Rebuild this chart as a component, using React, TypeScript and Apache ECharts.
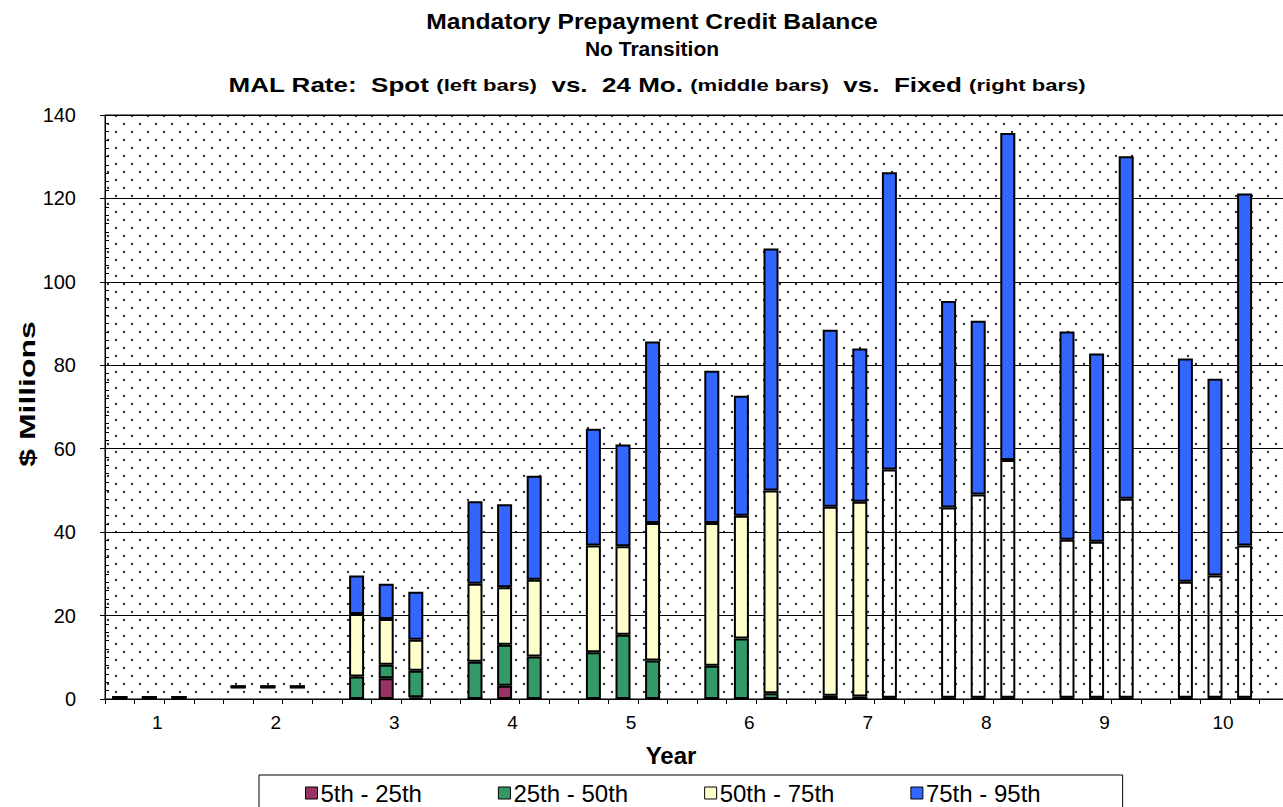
import React, { useEffect, useRef } from "react";
import * as echarts from "echarts";

// ---------- data ----------
const years = ["1", "2", "3", "4", "5", "6", "7", "8", "9", "10"];
const rates = ["Spot", "24 Mo.", "Fixed"]; // left, middle, right bar of each year

// values ($ millions), order: year1 spot, year1 24mo, year1 fixed, year2 spot, ...
const baseGap = [0, 0, 0, 2.5, 2.5, 2.5, 0, 0, 0, 0, 0, 0, 0, 0, 0, 0, 0, 0, 0, 0, 0, 0, 0, 0, 0, 0, 0, 0, 0, 0];
const p05to25 = [0.5, 0.5, 0.5, 0.5, 0.5, 0.5, 0, 5.0, 0.4, 0, 3.2, 0, 0, 0, 0, 0, 0, 0, 0, 0, 0, 0, 0, 0, 0, 0, 0, 0, 0, 0];
const p25to50 = [0, 0, 0, 0, 0, 0, 5.4, 3.2, 6.4, 8.9, 9.8, 10.2, 11.2, 15.4, 9.2, 8.0, 14.5, 1.4, 0.8, 0.6, 0.3, 0.3, 0.3, 0.3, 0.3, 0.3, 0.3, 0.3, 0.3, 0.3];
const p50to75 = [0, 0, 0, 0, 0, 0, 15.0, 11.0, 7.4, 18.7, 13.8, 18.4, 25.6, 21.2, 33.0, 34.2, 29.4, 48.6, 45.3, 46.7, 54.7, 45.6, 48.7, 57.0, 37.9, 37.4, 47.7, 27.8, 29.3, 36.5];
const p75to95 = [0, 0, 0, 0, 0, 0, 9.2, 8.4, 11.5, 19.8, 19.9, 24.9, 28.0, 24.4, 43.5, 36.5, 28.8, 58.0, 42.4, 36.7, 71.3, 49.5, 41.7, 78.4, 49.9, 45.1, 82.1, 53.5, 47.2, 84.4];
// bars whose 50th-75th segment is drawn unfilled in the original
const unfilledMid = [20, 21, 22, 23, 24, 25, 26, 27, 28, 29];

const seriesNames = ["5th - 25th", "25th - 50th", "50th - 75th", "75th - 95th"];
const seriesColors = ["#993366", "#339966", "#FFFFCC", "#3366FF"];

const yMin = 0;
const yMax = 140;
const yStep = 20;
const yMinorStep = 2;

const titleLine1 = "Mandatory Prepayment Credit Balance";
const titleLine2 = "No Transition";
const titleLine3 = [
  ["b", "MAL Rate:  Spot "],
  ["s", "(left bars)"],
  ["b", "  vs.  24 Mo. "],
  ["s", "(middle bars)"],
  ["b", "  vs.  Fixed "],
  ["s", "(right bars)"],
];
const xName = "Year";
const yName = "$ Millions";

const FONT = 'Arial, "Liberation Sans", Helvetica, sans-serif';

// one slot per bar plus an empty slot after each year
function slotCategories(): string[] {
  const out: string[] = [];
  years.forEach((y) => {
    rates.forEach((r) => out.push(y + " " + r));
    out.push(y + " gap");
  });
  return out;
}

function toSlots(vals: number[], itemFn?: (i: number, v: number) => any): any[] {
  const out: any[] = [];
  years.forEach((_, k) => {
    for (let j = 0; j < 3; j++) {
      const i = k * 3 + j;
      out.push(itemFn ? itemFn(i, vals[i]) : vals[i]);
    }
    out.push("-");
  });
  return out;
}

function makeDotPattern(): string {
  const c = document.createElement("canvas");
  c.width = 16;
  c.height = 16;
  const ctx = c.getContext("2d")!;
  ctx.fillStyle = "#ffffff";
  ctx.fillRect(0, 0, 16, 16);
  ctx.fillStyle = "#2a2a2a";
  ctx.beginPath();
  ctx.arc(4, 4, 1.15, 0, Math.PI * 2);
  ctx.fill();
  ctx.beginPath();
  ctx.arc(12, 12, 1.15, 0, Math.PI * 2);
  ctx.fill();
  return c.toDataURL("image/png");
}

export default function App() {
  const ref = useRef<HTMLDivElement>(null);

  useEffect(() => {
    if (!ref.current) return;
    const chart = echarts.init(ref.current, undefined, { renderer: "svg" });

    const gridLeft = 105;
    const gridTop = 115;
    const slotW = 29.6;
    const gridWidth = slotW * 40;
    const gridHeight = 584;

    const barStyle = { borderColor: "#000", borderWidth: 2 };
    const txt = (size: number, bold: boolean) => ({
      fontFamily: FONT,
      fontSize: size,
      fontWeight: bold ? "bold" : "normal",
      fill: "#000",
    });

    const option: any = {
      animation: false,
      backgroundColor: "#fff",
      legend: {
        data: seriesNames,
        left: 259,
        top: 775,
        backgroundColor: "#fff",
        borderColor: "#000",
        borderWidth: 1,
        borderRadius: 0,
        padding: [6, 82, 20, 46],
        icon: "rect",
        itemWidth: 12,
        itemHeight: 12,
        itemGap: 76,
        itemStyle: { borderColor: "#000", borderWidth: 1 },
        textStyle: { fontFamily: FONT, fontSize: 24, color: "#000", padding: [0, 0, 0, -2] },
      },
      graphic: [
        {
          type: "rect",
          z: -10,
          silent: true,
          shape: { x: gridLeft, y: gridTop, width: gridWidth, height: gridHeight },
          style: {
            fill: { image: makeDotPattern(), repeat: "repeat", imageWidth: 16, imageHeight: 16 },
          },
        },
        {
          type: "text",
          x: 652,
          y: 21,
          scaleX: 1.12,
          style: { text: titleLine1, ...txt(22, true), align: "center", verticalAlign: "middle", textAlign: "center", textVerticalAlign: "middle" },
        },
        {
          type: "text",
          x: 652,
          y: 48,
          scaleX: 1.0,
          style: { text: titleLine2, ...txt(21, true), align: "center", verticalAlign: "middle", textAlign: "center", textVerticalAlign: "middle" },
        },
        {
          type: "text",
          x: 657,
          y: 85,
          scaleX: 1.3,
          style: {
            text: titleLine3.map(([k, t]) => "{" + k + "|" + t + "}").join(""),
            rich: {
              b: { ...txt(20, true) },
              s: { ...txt(17, true) },
            },
            fill: "#000",
            align: "center",
            verticalAlign: "middle",
            textAlign: "center",
            textVerticalAlign: "middle",
          },
        },
        {
          type: "text",
          x: 27,
          y: 394,
          rotation: Math.PI / 2,
          scaleX: 1.45,
          style: { text: yName, ...txt(22, true), align: "center", verticalAlign: "middle", textAlign: "center", textVerticalAlign: "middle" },
        },
      ],
      grid: {
        left: gridLeft,
        top: gridTop,
        width: gridWidth,
        height: gridHeight,
        show: true,
        backgroundColor: "transparent",
        borderColor: "#000",
        borderWidth: 1,
      },
      xAxis: {
        type: "category",
        data: slotCategories(),
        boundaryGap: true,
        name: xName,
        nameLocation: "middle",
        nameGap: 44,
        nameTextStyle: { fontFamily: FONT, fontWeight: "bold", fontSize: 24, color: "#000", padding: [0, 52, 0, 0] },
        axisLine: { lineStyle: { color: "#000", width: 1 } },
        axisTick: { show: true, interval: 0, length: 5, lineStyle: { color: "#000" } },
        axisLabel: {
          interval: 0,
          margin: 14,
          fontFamily: FONT,
          fontSize: 19,
          color: "#000",
          padding: [0, 0, 0, 16],
          formatter: (_v: string, idx: number) => (idx % 4 === 1 ? years[Math.floor(idx / 4)] : ""),
        },
        splitLine: { show: false },
      },
      yAxis: [
        {
          type: "value",
          min: yMin,
          max: yMax,
          interval: yStep,
          axisLine: { show: true, lineStyle: { color: "#000", width: 1 } },
          axisTick: { show: true, length: 5, lineStyle: { color: "#000" } },
          axisLabel: { margin: 29, fontFamily: FONT, fontSize: 20, color: "#000" },
          splitLine: { show: true, lineStyle: { color: "#000", width: 1 } },
        },
        {
          type: "value",
          min: yMin,
          max: yMax,
          interval: yMinorStep,
          position: "left",
          axisLine: { show: false },
          axisTick: { show: true, inside: true, length: 4, lineStyle: { color: "#000" } },
          axisLabel: { show: false },
          splitLine: { show: false },
        },
      ],
      series: [
        {
          name: "base",
          type: "bar",
          stack: "all",
          barWidth: 15,
          data: toSlots(baseGap),
          itemStyle: { color: "transparent", borderWidth: 0 },
          silent: true,
        },
        {
          name: seriesNames[0],
          type: "bar",
          stack: "all",
          barWidth: 15,
          data: toSlots(p05to25),
          itemStyle: { color: seriesColors[0], ...barStyle },
        },
        {
          name: seriesNames[1],
          type: "bar",
          stack: "all",
          barWidth: 15,
          data: toSlots(p25to50),
          itemStyle: { color: seriesColors[1], ...barStyle },
        },
        {
          name: seriesNames[2],
          type: "bar",
          stack: "all",
          barWidth: 15,
          data: toSlots(p50to75, (i, v) =>
            unfilledMid.indexOf(i) >= 0 ? { value: v, itemStyle: { color: "rgba(255,255,255,0)" } } : v
          ),
          itemStyle: { color: seriesColors[2], ...barStyle },
        },
        {
          name: seriesNames[3],
          type: "bar",
          stack: "all",
          barWidth: 15,
          data: toSlots(p75to95),
          itemStyle: { color: seriesColors[3], ...barStyle },
        },
      ],
    };

    chart.setOption(option);
    return () => chart.dispose();
  }, []);

  return (
    <div style={{ position: "absolute", left: 0, top: 0, width: 1283, height: 807, overflow: "hidden", background: "#fff" }}>
      <div ref={ref} style={{ width: 1300, height: 830 }} />
    </div>
  );
}
